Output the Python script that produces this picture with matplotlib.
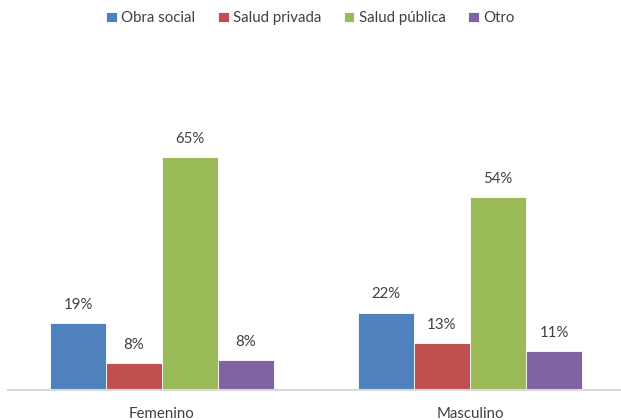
import matplotlib.pyplot as plt
import numpy as np

# datos
categorias = ['Femenino', 'Masculino']
series = ['Obra social', 'Salud privada', 'Salud pública', 'Otro']
obra_social = [18.5, 21.5]
salud_privada = [7.5, 13.1]
salud_publica = [64.7, 53.6]
otro = [8.2, 10.8]
etiquetas = [['19%', '22%'], ['8%', '13%'], ['65%', '54%'], ['8%', '11%']]

colores = ['#4F81BD', '#C0504D', '#9BBB59', '#8064A2']
gris = '#404040'

plt.rcParams['font.family'] = ['Lato', 'DejaVu Sans']

fig = plt.figure(figsize=(6.21, 4.20), dpi=100)
ax = fig.add_axes([8 / 621, 30 / 420, 612 / 621, 252 / 420])

valores = [obra_social, salud_privada, salud_publica, otro]
x = np.arange(len(categorias))
ancho = 56 / 308

for i, serie in enumerate(series):
    pos = x + (i - 1.5) * ancho
    barras = ax.bar(pos, valores[i], ancho, color=colores[i], label=serie,
                    edgecolor='white', linewidth=0.6)
    for b, txt in zip(barras, etiquetas[i]):
        ax.annotate(txt, (b.get_x() + b.get_width() / 2, b.get_height()),
                    xytext=(0, 8), textcoords='offset points',
                    ha='center', va='bottom', fontsize=10.8, color=gris)

ax.set_xlim(-0.5, 1.5 - 4 / 308)
ax.set_ylim(0, 70)
ax.set_xticks(x)
ax.set_xticklabels(categorias, fontsize=10.8, color=gris)
ax.tick_params(axis='x', length=0, pad=12.5)
ax.set_yticks([])
for lado in ['top', 'right', 'left']:
    ax.spines[lado].set_visible(False)
ax.spines['bottom'].set_color('#D9D9D9')
ax.spines['bottom'].set_linewidth(1.5)

leg = fig.legend(loc='center', bbox_to_anchor=(0.5, 1 - 18 / 420), ncol=4,
                 frameon=False, fontsize=10.8, handlelength=0.7,
                 handleheight=0.7, handletextpad=0.3, columnspacing=1.5)
for t in leg.get_texts():
    t.set_color(gris)

fig.savefig('out.png', dpi=100)
